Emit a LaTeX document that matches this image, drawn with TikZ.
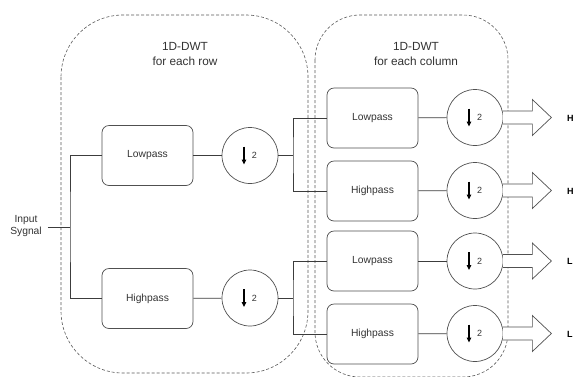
\documentclass[tikz,border=0pt]{standalone}
\usepackage{fontspec}
\setmainfont{Liberation Sans}
\usetikzlibrary{arrows.meta,calc}
\definecolor{linec}{HTML}{3C3C3C}
\definecolor{boxc}{HTML}{505050}
\definecolor{txt}{HTML}{333333}
\definecolor{dashc}{HTML}{5A5A5A}
\tikzset{
  filt/.style={draw=boxc, line width=0.7pt, rounded corners=7pt, minimum width=91pt,
    minimum height=60pt, inner sep=0pt, fill=white, text=txt,
    font=\fontsize{10.3}{12}\selectfont},
  dec/.style={circle, draw=boxc, line width=0.7pt, minimum size=56pt, inner sep=0pt, fill=white},
  wire/.style={draw=linec, line width=0.7pt},
  region/.style={draw=dashc, line width=0.6pt, dash pattern=on 3pt off 2pt},
  title/.style={align=center, text=txt, font=\fontsize{11.8}{14.5}\selectfont},
  outarrow/.style={draw=boxc, line width=0.7pt, fill=white, line join=miter},
  outlbl/.style={anchor=west, inner sep=0pt, text=black, font=\bfseries\fontsize{9}{10}\selectfont}
}
% down-sampling symbol inside a circle node
\newcommand{\downtwo}[1]{%
  \draw[draw=black, line width=1.1pt, -{Triangle[length=5pt,width=4.5pt]}]
    ($(#1.center)+(-6,-9)$) -- ($(#1.center)+(-6,9)$);
  \node[text=txt, inner sep=0pt, font=\fontsize{9}{10}\selectfont] at ($(#1.center)+(4.5,0)$) {2};}
% hollow output arrow leaving a circle node
\newcommand{\bigarrow}[1]{%
  \path[outarrow] ($(#1.east)+(-0.5,-6.5)$) -- ++(29.5,0) -- ++(0,-11.5)
    -- ++(19,18) -- ++(-19,18) -- ++(0,-11.5) -- ($(#1.east)+(-0.5,6.5)$);}
\begin{document}
\begin{tikzpicture}[x=1pt,y=-1pt]
\useasboundingbox[fill=white] (0,0) rectangle (576,376);

% dashed groupings
\draw[region, rounded corners=62pt] (61,15) rectangle (308,373);
\draw[region, rounded corners=45pt] (315,15) rectangle (508,377);
\node[title] (t1) at (185,54) {1D-DWT\\for each row};
\node[title] (t2) at (416,54) {1D-DWT\\for each column};

% input
\node[align=center, text=txt, inner sep=6pt, font=\fontsize{10.3}{12}\selectfont] (in) at (26,226) {Input\\Sygnal};
\coordinate (j0) at (70,227);

% row stage
\node[filt] (lp1) at (147.5,155.5) {Lowpass};
\node[filt] (hp1) at (147.5,298.5) {Highpass};
\node[dec] (d1) at (250,155.5) {};
\node[dec] (d2) at (250,298) {};

% column stage
\node[filt] (lp2) at (372.5,118) {Lowpass};
\node[filt] (hp2) at (372.5,191) {Highpass};
\node[filt] (lp3) at (372.5,261) {Lowpass};
\node[filt] (hp3) at (372.5,334) {Highpass};
\node[dec] (d3) at (475,117.5) {};
\node[dec] (d4) at (475,190.5) {};
\node[dec] (d5) at (475,261) {};
\node[dec] (d6) at (475,333.5) {};

\coordinate (j1) at (293,155.5);
\coordinate (j2) at (293,298);

% wiring
\draw[wire] (in.east |- j0) -- (j0);
\draw[wire] (lp1.west) -| (j0) |- (hp1.west);
\draw[wire] (lp1) -- (d1);
\draw[wire] (hp1) -- (d2);
\draw[wire] (d1.east) -- (j1);
\draw[wire] (d2.east) -- (j2);
\draw[wire] (lp2.west) -| (j1) |- (hp2.west);
\draw[wire] (lp3.west) -| (j2) |- (hp3.west);
\draw[wire] (lp2) -- (d3);
\draw[wire] (hp2) -- (d4);
\draw[wire] (lp3) -- (d5);
\draw[wire] (hp3) -- (d6);

% symbols and outputs
\foreach \d in {d1,d2,d3,d4,d5,d6} {\downtwo{\d}}
\foreach \d in {d3,d4,d5,d6} {\bigarrow{\d}}
\node[outlbl] (o1) at (567,118) {H};
\node[outlbl] (o2) at (567,191) {H};
\node[outlbl] (o3) at (567,261) {L};
\node[outlbl] (o4) at (567,334) {L};
\end{tikzpicture}
\end{document}
